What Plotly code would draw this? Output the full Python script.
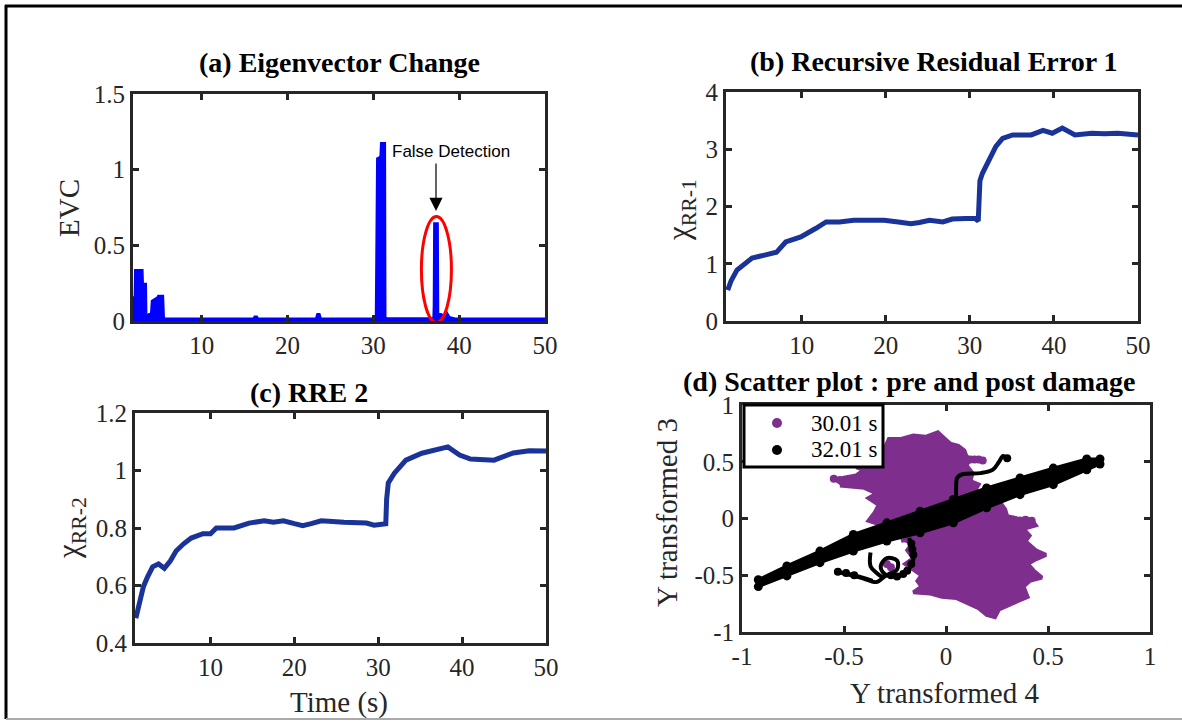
import plotly.graph_objects as go

W, H = 1182, 721

# ---------------- data ----------------
evc_t = [2.0, 2.3, 2.35, 3.0, 3.05, 3.4, 3.45, 3.8, 3.9, 4.2, 4.3, 4.9, 5.0, 5.4, 5.5,
         16.1, 16.3, 16.5, 23.4, 23.6, 23.8, 30.4, 30.5, 30.55, 30.9, 30.95, 31.0, 31.25, 31.3, 31.5,
         37.1, 37.15, 37.2, 37.4, 37.45, 38.2, 38.5, 38.8, 39.5, 50.0]
evc_v = [0.15, 0.15, 0.33, 0.33, 0.24, 0.24, 0.02, 0.03, 0.04, 0.04, 0.13, 0.15, 0.16, 0.16, 0.012,
         0.01, 0.03, 0.01, 0.01, 0.05, 0.01, 0.012, 0.5, 1.07, 1.08, 1.1, 1.17, 1.17, 0.02, 0.012,
         0.012, 0.1, 0.64, 0.64, 0.05, 0.03, 0.05, 0.02, 0.01, 0.01]

rr1_t = [1.2, 1.6, 2.3, 3.0, 4.1, 5.0, 6.3, 7.0, 8.1, 9.9, 11.7, 12.9, 14.5, 16.2, 18.0, 19.8, 21.5, 23.0,
         24.0, 25.2, 26.8, 27.9, 29.5, 30.6, 31.0, 31.05, 31.2, 31.5, 32.4, 33.1, 33.9, 35.1, 37.3, 38.7,
         39.8, 41.0, 42.5, 44.5, 46.0, 47.6, 50.0]
rr1_v = [0.54, 0.7, 0.89, 0.97, 1.1, 1.13, 1.18, 1.2, 1.38, 1.47, 1.62, 1.73, 1.73, 1.76, 1.76, 1.76, 1.73, 1.70,
         1.72, 1.76, 1.73, 1.78, 1.79, 1.79, 1.75, 2.2, 2.45, 2.58, 2.87, 3.05, 3.19, 3.25, 3.25, 3.33,
         3.28, 3.37, 3.25, 3.28, 3.27, 3.28, 3.25]

rr2_t = [1.1, 1.5, 2.0, 2.5, 3.1, 3.8, 4.5, 5.2, 5.9, 6.8, 7.7, 9.1, 10.0, 10.7, 12.8, 14.6, 16.4, 17.5,
         18.7, 20.0, 21.0, 22.0, 23.2, 25.9, 28.6, 29.5, 30.9, 31.0, 31.2, 31.9, 33.3, 35.2, 37.0, 38.3,
         39.7, 41.0, 43.8, 46.1, 48.0, 50.0]
rr2_v = [0.486, 0.53, 0.596, 0.63, 0.665, 0.675, 0.66, 0.685, 0.72, 0.745, 0.765, 0.78, 0.78, 0.80, 0.80, 0.817, 0.825, 0.82,
         0.825, 0.815, 0.808, 0.815, 0.825, 0.82, 0.817, 0.81, 0.815, 0.9, 0.957, 0.99, 1.036, 1.06, 1.075, 1.082,
         1.054, 1.04, 1.036, 1.061, 1.069, 1.068]

# scatter (d): outline of the dense pre-damage cloud (30.01 s)
pre_up_x = [-0.54, -0.50, -0.44, -0.40, -0.44, -0.38, -0.33, -0.34, -0.30, -0.28, -0.22, -0.16, -0.10, -0.04,
            -0.01, 0.02, 0.06, 0.09, 0.10, 0.12, 0.10, 0.13, 0.12, 0.16, 0.14, 0.16, 0.10, -0.20, -0.33,
            -0.38, -0.35, -0.33, -0.38, -0.34, -0.40, -0.46, -0.52]
pre_up_y = [0.33, 0.36, 0.38, 0.43, 0.45, 0.47, 0.50, 0.56, 0.62, 0.70, 0.70, 0.73, 0.72, 0.76,
            0.71, 0.66, 0.64, 0.60, 0.55, 0.52, 0.47, 0.40, 0.33, 0.30, 0.24, 0.18, 0.10, -0.12, -0.05,
            -0.02, 0.05, 0.12, 0.18, 0.22, 0.27, 0.28, 0.29]
pre_lo_x = [-0.22, 0.10, 0.22, 0.27, 0.29, 0.30, 0.35, 0.42, 0.44, 0.38, 0.41, 0.39, 0.44, 0.49, 0.44, 0.40,
            0.43, 0.47, 0.41, 0.38, 0.40, 0.34, 0.30, 0.26, 0.24, 0.20, 0.16, 0.12, 0.05, -0.02, -0.08,
            -0.16, -0.12, -0.14, -0.12, -0.16, -0.20, -0.16, -0.19, -0.17]
pre_lo_y = [-0.20, 0.02, 0.10, 0.13, 0.08, 0.02, 0.00, -0.01, -0.06, -0.09, -0.15, -0.20, -0.28, -0.32, -0.36, -0.40,
            -0.46, -0.52, -0.55, -0.60, -0.69, -0.74, -0.77, -0.80, -0.87, -0.85, -0.79, -0.76, -0.70, -0.69, -0.66,
            -0.65, -0.60, -0.55, -0.50, -0.45, -0.40, -0.35, -0.28, -0.23]
pre_dot_x = [0.12, 0.14, 0.16, 0.18, 0.33, 0.36, 0.39, 0.42, -0.55, -0.52, -0.29, -0.27]
pre_dot_y = [0.52, 0.52, 0.52, 0.51, -0.01, -0.02, -0.01, -0.02, 0.35, 0.34, -0.40, -0.43]

# scatter (d): post-damage trajectory (32.01 s), main band edges
post_band_x = [-0.92, -0.78, -0.618, -0.454, -0.29, -0.127, 0.036, 0.199, 0.363, 0.526, 0.69, 0.755,
               0.755, 0.69, 0.526, 0.363, 0.199, 0.036, -0.127, -0.29, -0.454, -0.618, -0.78, -0.92]
post_band_y = [-0.54, -0.418, -0.287, -0.14, -0.038, 0.064, 0.167, 0.269, 0.357, 0.444, 0.524, 0.525,
               0.48, 0.43, 0.298, 0.21, 0.094, -0.038, -0.126, -0.199, -0.287, -0.389, -0.506, -0.60]
post_up_x = [0.05, 0.05, 0.055, 0.08, 0.17, 0.23, 0.26, 0.28, 0.30]
post_up_y = [0.17, 0.30, 0.36, 0.39, 0.40, 0.43, 0.50, 0.55, 0.52]
post_loop_x = [-0.18, -0.17, -0.16, -0.19, -0.24, -0.30, -0.32, -0.29, -0.24, -0.24, -0.30, -0.34,
               -0.42, -0.53, -0.45, -0.36]
post_loop_y = [-0.17, -0.27, -0.36, -0.46, -0.51, -0.49, -0.42, -0.35, -0.37, -0.45, -0.51, -0.56,
               -0.52, -0.47, -0.50, -0.55]
post_hook_x = [-0.37, -0.37, -0.34, -0.31]
post_hook_y = [-0.30, -0.42, -0.48, -0.52]
post_dot_x = [-0.17, -0.165, -0.16, -0.17, -0.19, -0.21, -0.24, -0.27, -0.45, -0.49, -0.53, 0.30]
post_dot_y = [-0.22, -0.27, -0.32, -0.40, -0.46, -0.49, -0.51, -0.50, -0.50, -0.48, -0.47, 0.53]

series_names = ["30.01 s", "32.01 s"]

tick_x_time = [10, 20, 30, 40, 50]
tick_y_a = [0, 0.5, 1, 1.5]
tick_y_a_txt = ["0", "0.5", "1", "1.5"]
tick_y_b = [0, 1, 2, 3, 4]
tick_y_c = [0.4, 0.6, 0.8, 1.0, 1.2]
tick_y_c_txt = ["0.4", "0.6", "0.8", "1", "1.2"]
tick_d = [-1, -0.5, 0, 0.5, 1]
tick_d_txt = ["-1", "-0.5", "0", "0.5", "1"]

# ---------------- styling ----------------
SERIF = "Liberation Serif"
AXC = "#262626"
BLUE = "#0000FF"
DBLUE = "#1a3399"
PURPLE = "#7E2F8E"
series_colors = [PURPLE, "black"]


def px_x(p):
    return p / W


def px_y(p):
    return 1 - p / H


fig = go.Figure()

fig.add_trace(go.Scatter(x=evc_t, y=evc_v, mode="lines", line=dict(color=BLUE, width=4),
                         fill="tozeroy", fillcolor=BLUE, xaxis="x", yaxis="y", showlegend=False))
fig.add_trace(go.Scatter(x=rr1_t, y=rr1_v, mode="lines", line=dict(color=DBLUE, width=5),
                         xaxis="x2", yaxis="y2", showlegend=False))
fig.add_trace(go.Scatter(x=rr2_t, y=rr2_v, mode="lines", line=dict(color=DBLUE, width=5),
                         xaxis="x3", yaxis="y3", showlegend=False))
for xs, ys in [(pre_up_x, pre_up_y), (pre_lo_x, pre_lo_y)]:
    fig.add_trace(go.Scatter(x=xs, y=ys, mode="lines", fill="toself", fillcolor=PURPLE,
                             line=dict(color=PURPLE, width=4),
                             xaxis="x4", yaxis="y4", showlegend=False, hoverinfo="skip"))
fig.add_trace(go.Scatter(x=pre_dot_x, y=pre_dot_y, mode="markers", name=series_names[0],
                         marker=dict(color=PURPLE, size=8), xaxis="x4", yaxis="y4", showlegend=False))
fig.add_trace(go.Scatter(x=post_band_x, y=post_band_y, mode="lines+markers", fill="toself", fillcolor="black",
                         line=dict(color="black", width=3), marker=dict(color="black", size=9),
                         xaxis="x4", yaxis="y4", showlegend=False))
for xs, ys in [(post_up_x, post_up_y), (post_hook_x, post_hook_y), (post_loop_x, post_loop_y)]:
    fig.add_trace(go.Scatter(x=xs, y=ys, mode="lines", line=dict(color="black", width=4, shape="spline"),
                             xaxis="x4", yaxis="y4", showlegend=False))
fig.add_trace(go.Scatter(x=post_dot_x, y=post_dot_y, mode="markers", name=series_names[1],
                         marker=dict(color="black", size=8), xaxis="x4", yaxis="y4", showlegend=False))


def axis(domain, rng, tickvals, ticktext, anchor):
    return dict(domain=domain, range=rng, tickvals=tickvals, ticktext=ticktext, anchor=anchor,
                showline=True, linewidth=3, linecolor=AXC, mirror="ticks", ticks="inside",
                ticklen=6, tickwidth=3, tickcolor=AXC, showgrid=False, zeroline=False,
                automargin=False,
                tickfont=dict(family=SERIF, size=25, color=AXC), fixedrange=True)


fig.update_layout(
    width=W, height=H, autosize=False, showlegend=False,
    margin=dict(l=0, r=0, t=0, b=0, pad=0, autoexpand=False),
    paper_bgcolor="white", plot_bgcolor="white",
    xaxis=axis([px_x(133), px_x(545)], [2, 50], tick_x_time, [str(v) for v in tick_x_time], "y"),
    yaxis=axis([px_y(321), px_y(94)], [0, 1.5], tick_y_a, tick_y_a_txt, "x"),
    xaxis2=axis([px_x(726), px_x(1138)], [1, 50], tick_x_time, [str(v) for v in tick_x_time], "y2"),
    yaxis2=axis([px_y(321), px_y(92)], [0, 4], tick_y_b, [str(v) for v in tick_y_b], "x2"),
    xaxis3=axis([px_x(135), px_x(546)], [1, 50], tick_x_time, [str(v) for v in tick_x_time], "y3"),
    yaxis3=axis([px_y(643), px_y(413)], [0.4, 1.2], tick_y_c, tick_y_c_txt, "x3"),
    xaxis4=axis([px_x(742), px_x(1150)], [-1, 1], tick_d, tick_d_txt, "y4"),
    yaxis4=axis([px_y(632), px_y(405)], [-1, 1], tick_d, tick_d_txt, "x4"),
)

ann = []
titles = [("<b>(a) Eigenvector Change</b>", 339, 63), ("<b>(b) Recursive Residual Error 1</b>", 934, 62),
          ("<b>(c) RRE 2</b>", 309, 392), ("<b>(d) Scatter plot : pre and post damage</b>", 909, 381)]
for t, x, y in titles:
    ann.append(dict(text=t, x=px_x(x), y=px_y(y), xref="paper", yref="paper", showarrow=False,
                    xanchor="center", yanchor="middle", font=dict(family=SERIF, size=28, color="black")))
labels = [("EVC", 69, 208, -90, 29), ("χ<sub>RR-1</sub>", 681, 210, -90, 31),
          ("χ<sub>RR-2</sub>", 71, 528, -90, 31),
          ("Y transformed 3", 667, 513, -90, 29), ("Time (s)", 339, 702, 0, 29),
          ("Y transformed 4", 944, 693, 0, 29)]
for t, x, y, a, s in labels:
    ann.append(dict(text=t, x=px_x(x), y=px_y(y), xref="paper", yref="paper", showarrow=False,
                    textangle=a, xanchor="center", yanchor="middle",
                    font=dict(family=SERIF, size=s, color=AXC)))
ann.append(dict(text="False Detection", x=39.05, y=1.117, xref="x", yref="y", showarrow=False,
                xanchor="center", yanchor="middle", font=dict(family="Liberation Sans", size=17, color="black")))
ann.append(dict(text="", x=37.3, y=0.727, ax=37.3, ay=1.05, xref="x", yref="y", axref="x", ayref="y",
                showarrow=True, arrowhead=2, arrowsize=2.2, arrowwidth=1.2, arrowcolor="black"))

shapes = [
    dict(type="circle", xref="x", yref="y", x0=35.6, x1=39.1, y0=-0.01, y1=0.69,
         line=dict(color="red", width=3)),
    dict(type="line", xref="paper", yref="paper", x0=px_x(5), x1=1, y0=px_y(6), y1=px_y(6),
         line=dict(color="black", width=3)),
    dict(type="line", xref="paper", yref="paper", x0=px_x(6), x1=px_x(6), y0=px_y(5), y1=px_y(719),
         line=dict(color="black", width=3)),
    dict(type="line", xref="paper", yref="paper", x0=px_x(6), x1=1, y0=px_y(719), y1=px_y(719),
         line=dict(color="#aaaaaa", width=2)),
    # legend box of panel (d)
    dict(type="rect", xref="paper", yref="paper", x0=px_x(744), x1=px_x(883), y0=px_y(467), y1=px_y(405),
         fillcolor="white", line=dict(color="black", width=3), layer="above"),
]
for i, (name, col) in enumerate(zip(series_names, series_colors)):
    cy = 423 + 27 * i
    shapes.append(dict(type="circle", xref="paper", yref="paper", x0=px_x(772), x1=px_x(782),
                       y0=px_y(cy + 5), y1=px_y(cy - 5), fillcolor=col, line=dict(color=col, width=0),
                       layer="above"))
    ann.append(dict(text=name, x=px_x(809), y=px_y(cy), xref="paper", yref="paper", showarrow=False,
                    xanchor="left", yanchor="middle", font=dict(family=SERIF, size=23, color="black")))

fig.update_layout(annotations=ann, shapes=shapes)

fig.write_html("out.html", config={"displayModeBar": False},
               post_script="document.body.style.margin='0';")
